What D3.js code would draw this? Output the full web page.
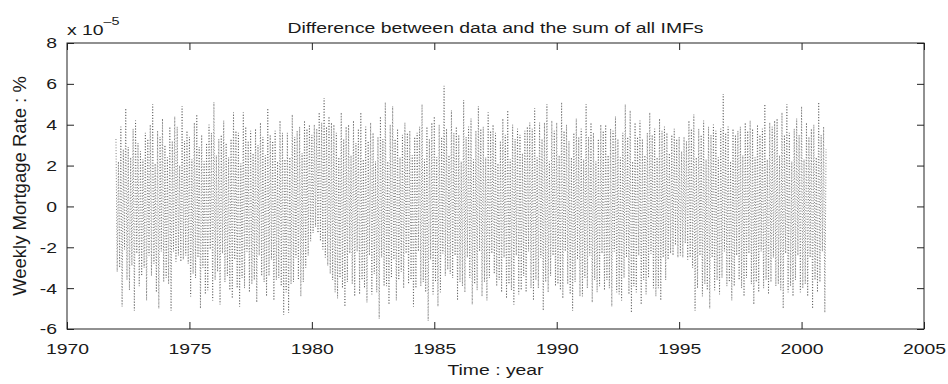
<!DOCTYPE html>
<html>
<head>
<meta charset="utf-8">
<script src="https://cdn.jsdelivr.net/npm/d3@7"></script>
<style>
  body { margin: 0; background: #fff; }
  text { font-family: "Liberation Sans", Arial, Helvetica, sans-serif; fill: #1a1a1a; }
</style>
</head>
<body>
<div id="chart"></div>
<script>
const WIDTH = 948;
const HEIGHT = 384;
const MARGIN = { left: 67, right: 24, top: 43, bottom: 55 };
const STRETCH = 1.25;   // the original lettering is wide

const TITLE = 'Difference between data and the sum of all IMFs';
const X_LABEL = 'Time : year';
const Y_LABEL = 'Weekly Mortgage Rate : %';

const X_TICKS = [1970, 1975, 1980, 1985, 1990, 1995, 2000, 2005];
const Y_TICKS = [-6, -4, -2, 0, 2, 4, 6, 8];

// residual, in units of 1e-5, one row per year, sampled every 0.05 year from 1972.0
const START_YEAR = 1972;
const STEP_YEARS = 0.05;
const residual = [
    3.3, -3.2, 2.2, -3.0, 3.9, -4.9, 2.8, -2.1, 4.8, -3.6, 2.9, -4.1, 2.4, -2.9, 3.8, -5.1, 4.2, -2.3, 3.1, -3.9,   // 1972
    2.7, -3.4, 2.3, -3.0, 3.6, -4.6, 3.3, -2.4, 4.0, -3.4, 5.0, -2.8, 2.1, -4.2, 3.7, -5.0, 3.4, -2.2, 4.3, -3.7,   // 1973
    3.0, -3.5, 2.4, -3.8, 3.9, -5.1, 3.2, -2.2, 4.4, -2.7, 3.9, -2.4, 2.0, -2.7, 4.9, -2.6, 3.2, -2.4, 3.7, -2.8,   // 1974
    3.4, -4.4, 2.3, -3.3, 4.1, -3.5, 4.5, -2.5, 2.9, -5.0, 3.5, -3.0, 2.2, -4.3, 3.1, -4.1, 4.0, -2.1, 3.6, -4.6,   // 1975
    5.1, -3.6, 2.5, -3.2, 3.3, -4.8, 3.5, -2.3, 4.2, -3.7, 3.1, -3.4, 2.4, -4.1, 3.3, -4.5, 4.6, -2.6, 3.7, -4.0,   // 1976
    3.6, -4.9, 2.1, -3.5, 4.6, -4.0, 3.9, -2.2, 3.2, -4.2, 3.7, -3.8, 2.6, -3.6, 3.8, -4.7, 3.0, -2.4, 4.1, -3.4,   // 1977
    3.4, -3.7, 2.5, -4.4, 4.8, -3.4, 3.5, -2.6, 3.2, -4.6, 3.7, -3.6, 2.2, -3.5, 4.2, -3.9, 3.6, -5.3, 2.3, -4.2,   // 1978
    3.6, -5.2, 2.4, -3.8, 4.5, -3.7, 3.4, -2.5, 3.7, -3.6, 3.9, -4.4, 2.6, -3.7, 4.2, -3.0, 3.8, -2.4, 4.0, -1.7,   // 1979
    3.5, -1.3, 4.0, -1.0, 3.8, -1.3, 4.6, -1.7, 4.1, -2.1, 5.3, -2.5, 3.9, -2.9, 4.4, -3.3, 4.1, -3.6, 4.0, -4.2,   // 1980
    3.6, -4.5, 2.4, -3.5, 4.6, -4.0, 3.3, -4.9, 3.9, -3.7, 4.0, -2.3, 2.5, -3.8, 4.2, -4.4, 3.1, -2.2, 3.8, -4.3,   // 1981
    4.6, -3.6, 2.3, -4.0, 3.9, -4.7, 3.2, -2.4, 4.1, -4.3, 3.6, -3.3, 2.2, -4.2, 3.4, -5.5, 4.4, -2.5, 3.3, -3.9,   // 1982
    5.1, -3.9, 2.2, -4.8, 4.0, -3.5, 4.9, -2.6, 3.3, -4.6, 3.8, -3.6, 2.4, -3.2, 3.5, -4.0, 4.1, -2.3, 3.6, -3.8,   // 1983
    3.7, -3.6, 2.5, -4.9, 3.4, -4.0, 3.6, -2.2, 3.9, -3.9, 5.0, -3.7, 2.3, -4.2, 3.9, -5.6, 3.3, -2.6, 4.1, -4.3,   // 1984
    4.4, -3.7, 2.4, -4.9, 4.0, -4.2, 3.4, -2.3, 5.9, -3.4, 3.8, -3.1, 2.5, -3.3, 4.7, -3.5, 3.6, -2.4, 3.9, -4.6,   // 1985
    3.5, -3.7, 2.2, -3.9, 5.2, -4.2, 3.4, -2.5, 3.9, -3.5, 4.3, -4.8, 2.3, -3.8, 3.7, -4.1, 4.9, -2.2, 3.8, -4.4,   // 1986
    3.9, -3.7, 2.4, -4.6, 4.6, -3.5, 3.7, -2.3, 4.0, -3.3, 3.6, -3.9, 2.1, -3.6, 3.2, -4.2, 4.3, -2.5, 3.5, -4.5,   // 1987
    4.7, -3.8, 2.3, -4.1, 4.0, -4.8, 3.3, -2.4, 3.8, -4.3, 3.5, -4.1, 2.6, -3.4, 3.7, -4.2, 3.9, -2.2, 4.1, -4.0,   // 1988
    3.8, -4.6, 4.8, -3.6, 2.4, -4.0, 4.1, -2.5, 3.3, -5.1, 4.1, -3.7, 5.0, -4.2, 2.2, -3.4, 4.2, -2.4, 3.7, -3.9,   // 1989
    4.1, -3.8, 2.5, -4.1, 5.1, -4.5, 3.7, -2.2, 4.0, -3.8, 3.2, -4.3, 2.4, -5.1, 3.6, -3.7, 4.3, -2.6, 3.4, -4.4,   // 1990
    3.8, -4.4, 2.3, -3.5, 5.0, -4.0, 3.4, -2.4, 4.1, -4.7, 3.6, -3.6, 2.2, -4.2, 3.3, -3.9, 4.0, -2.3, 3.7, -4.1,   // 1991
    4.0, -3.6, 2.5, -4.0, 3.8, -4.9, 3.7, -2.2, 4.4, -4.2, 3.3, -4.3, 2.4, -4.6, 3.6, -3.5, 5.0, -2.5, 3.4, -4.3,   // 1992
    4.7, -5.2, 2.2, -3.9, 4.1, -4.2, 3.4, -2.4, 4.2, -4.8, 3.3, -3.6, 2.5, -4.3, 3.6, -3.5, 4.6, -2.3, 3.5, -4.0,   // 1993
    3.8, -4.4, 2.4, -4.0, 4.3, -4.6, 3.7, -2.5, 3.9, -3.6, 3.6, -2.6, 2.6, -2.3, 3.5, -2.4, 3.8, -1.9, 3.3, -2.5,   // 1994
    3.4, -2.4, 2.7, -2.5, 3.4, -1.8, 3.2, -2.6, 4.2, -2.5, 3.8, -3.0, 4.5, -5.1, 2.4, -4.0, 3.8, -2.4, 3.5, -4.4,   // 1995
    4.2, -3.8, 2.3, -4.1, 3.9, -5.0, 3.5, -2.5, 4.0, -4.1, 3.7, -3.6, 2.4, -4.3, 3.8, -3.5, 5.5, -2.2, 3.6, -3.9,   // 1996
    3.9, -3.7, 2.2, -4.6, 3.8, -3.9, 3.5, -2.4, 3.7, -3.6, 3.9, -4.0, 2.5, -4.4, 4.1, -3.5, 3.7, -2.3, 4.2, -3.8,   // 1997
    3.8, -4.8, 2.4, -3.7, 4.0, -4.2, 3.5, -2.2, 3.8, -4.0, 5.0, -3.6, 2.3, -4.3, 4.1, -3.7, 3.9, -2.5, 4.2, -3.9,   // 1998
    4.3, -3.8, 2.5, -4.1, 4.6, -5.0, 3.5, -2.3, 5.0, -4.2, 3.6, -3.9, 2.2, -4.4, 3.8, -3.6, 4.3, -2.4, 3.5, -4.2,   // 1999
    4.9, -4.0, 2.3, -3.8, 4.1, -4.4, 3.4, -2.5, 3.8, -5.0, 4.0, -3.6, 2.4, -4.2, 5.1, -3.7, 3.5, -2.2, 3.9, -5.2,   // 2000
    2.8                                                                                                              // 2001.0
];

const svg = d3.select('#chart')
    .append('svg')
    .attr('width', WIDTH)
    .attr('height', HEIGHT);

const x = d3.scaleLinear()
    .domain([1970, 2005])
    .range([MARGIN.left, WIDTH - MARGIN.right]);

const y = d3.scaleLinear()
    .domain([-6, 8])
    .range([HEIGHT - MARGIN.bottom, MARGIN.top]);

const fmt = d => String(d);

// residual line, dotted like the original
const line = d3.line()
    .x((d, i) => x(START_YEAR + i * STEP_YEARS))
    .y(d => y(d));

svg.append('path')
    .datum(residual)
    .attr('fill', 'none')
    .attr('stroke', '#3a3a3a')
    .attr('stroke-width', 0.7)
    .attr('stroke-dasharray', '0.9,1.9')
    .attr('d', line);

// axes with inward ticks on all four sides
const styleAxis = g => {
    g.select('.domain').remove();
    g.selectAll('line').attr('stroke', '#222');
    g.selectAll('text')
        .style('font-size', '15.5px')
        .attr('fill', '#1a1a1a')
        .attr('transform', `scale(${STRETCH},1)`);
};

svg.append('g')
    .attr('transform', `translate(0,${HEIGHT - MARGIN.bottom})`)
    .call(d3.axisBottom(x).tickValues(X_TICKS).tickFormat(fmt)
        .tickSizeInner(-7).tickSizeOuter(0).tickPadding(14))
    .call(styleAxis);

svg.append('g')
    .attr('transform', `translate(0,${MARGIN.top})`)
    .call(d3.axisTop(x).tickValues(X_TICKS).tickFormat('')
        .tickSizeInner(-7).tickSizeOuter(0))
    .call(styleAxis);

svg.append('g')
    .attr('transform', `translate(${MARGIN.left},0)`)
    .call(d3.axisLeft(y).tickValues(Y_TICKS).tickFormat(fmt)
        .tickSizeInner(-7).tickSizeOuter(0).tickPadding(8))
    .call(styleAxis);

svg.append('g')
    .attr('transform', `translate(${WIDTH - MARGIN.right},0)`)
    .call(d3.axisRight(y).tickValues(Y_TICKS).tickFormat('')
        .tickSizeInner(-7).tickSizeOuter(0))
    .call(styleAxis);

svg.append('rect')
    .attr('x', MARGIN.left)
    .attr('y', MARGIN.top)
    .attr('width', WIDTH - MARGIN.left - MARGIN.right)
    .attr('height', HEIGHT - MARGIN.top - MARGIN.bottom)
    .attr('fill', 'none')
    .attr('stroke', '#222')
    .attr('stroke-width', 1);

// exponent label
const expo = svg.append('text')
    .attr('transform', `translate(${MARGIN.left},35) scale(${STRETCH},1)`)
    .style('font-size', '15.5px');
expo.append('tspan').text('x 10');
expo.append('tspan')
    .attr('dy', -10)
    .style('font-size', '11.5px')
    .text('\u20135');

const plotMid = (MARGIN.left + WIDTH - MARGIN.right) / 2;

svg.append('text')
    .attr('transform', `translate(${plotMid},33) scale(${STRETCH},1)`)
    .style('text-anchor', 'middle')
    .style('font-size', '15.5px')
    .text(TITLE);

svg.append('text')
    .attr('transform', `translate(${plotMid},375) scale(${STRETCH},1)`)
    .style('text-anchor', 'middle')
    .style('font-size', '15.5px')
    .text(X_LABEL);

svg.append('text')
    .attr('transform', `translate(26,${(MARGIN.top + HEIGHT - MARGIN.bottom) / 2}) rotate(-90)`)
    .style('text-anchor', 'middle')
    .style('font-size', '18.5px')
    .text(Y_LABEL);
</script>
</body>
</html>
